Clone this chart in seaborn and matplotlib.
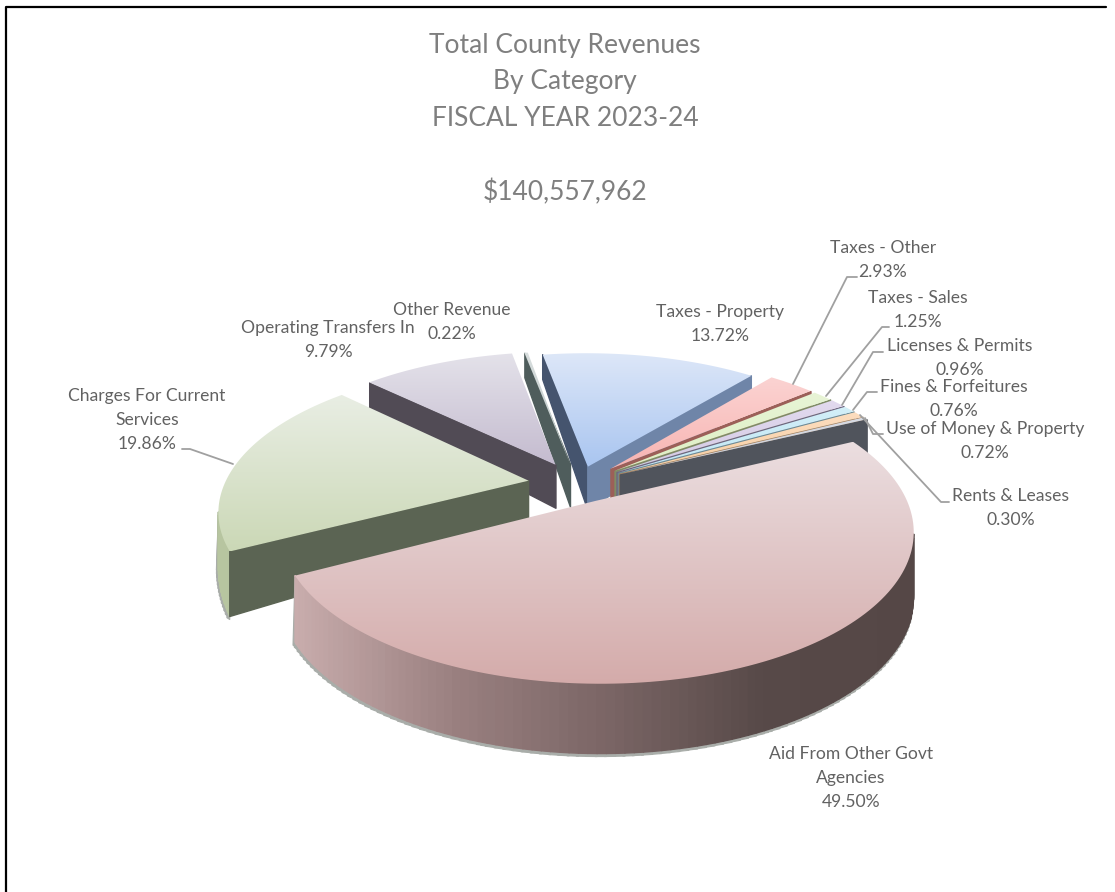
import numpy as np
import matplotlib
matplotlib.use("Agg")
import matplotlib.pyplot as plt
import matplotlib.transforms as mtransforms
from matplotlib.collections import PolyCollection
from matplotlib.path import Path
import seaborn as sns

#%% Datos
categorias = ["Taxes - Property", "Taxes - Other", "Taxes - Sales", "Licenses & Permits",
              "Fines & Forfeitures", "Use of Money & Property", "Rents & Leases",
              "Aid From Other Govt\nAgencies", "Charges For Current\nServices",
              "Operating Transfers In", "Other Revenue"]
porcentajes = [13.72, 2.93, 1.25, 0.96, 0.76, 0.72, 0.30, 49.50, 19.86, 9.79, 0.22]
titulos = ["Total County Revenues", "By Category", "FISCAL YEAR 2023-24", "$140,557,962"]

#%% Estilo
sns.set_theme(style="white")
plt.rcParams["font.family"] = ["Lato", "DejaVu Sans"]

# degradado de la cara superior (arriba, abajo)
tapas = [("#DDE7F8", "#A9C5F0"), ("#FBD3D2", "#F8B4B2"), ("#E8F4D6", "#DDEFC3"),
         ("#E2DAEE", "#D3C8E4"), ("#D3EFF8", "#BFE6F3"), ("#FCDDBF", "#F8CDA0"),
         ("#D8DCE4", "#C6CCD8"), ("#EBDEE0", "#D4ABAA"), ("#E9EEE4", "#CBD8B6"),
         ("#E4E2EA", "#C4BBCF"), ("#D8DEDE", "#BCC6C6")]
# caras laterales: mirando a la derecha, mirando a la izquierda, borde curvo
lados = [("#6F85A8", "#45546E", "#6F85A8"), ("#9C5F58", "#9C5F58", "#9C5F58"),
         ("#7F8C66", "#7F8C66", "#7F8C66"), ("#6F6680", "#6F6680", "#6F6680"),
         ("#6A8A94", "#6A8A94", "#6A8A94"), ("#A87F58", "#A87F58", "#A87F58"),
         ("#50545C", "#50545C", "#50545C"), ("#574948", "#574948", None),
         ("#5B6453", "#5B6453", "#B7C5A0"), ("#514B55", "#514B55", "#514B55"),
         ("#4F5D5C", "#4F5D5C", "#4F5D5C")]
# orden de dibujo, de atras hacia adelante
orden = [10, 0, 1, 2, 3, 4, 5, 6, 9, 8, 7]
separacion = [0.13, 0.155, 0.155, 0.155, 0.155, 0.155, 0.155, 0.13, 0.165, 0.16, 0.15]

etiquetas_pos = [(720, 324), (883, 260), (918, 310), (960, 358), (954, 399),
                 (985, 441), (1011, 508), (851, 778), (147, 420), (328, 340), (452, 322)]
guias = [[(793, 384), (847, 277), (857, 277)],
         [(826, 396), (882, 327), (889, 327)],
         [(842, 405), (873, 352), (883, 352)],
         [(853, 410), (867, 392), (877, 392)],
         [(865, 418), (873, 434), (883, 434)],
         [(860, 415), (941, 502), (949, 502)],
         [(233, 464), (190, 449), (182, 449)]]


class Perspectiva(mtransforms.Transform):
    input_dims = 2
    output_dims = 2

    def __init__(self, cx, cy, ax_, by, k):
        super().__init__()
        self.cx, self.cy, self.ax_, self.by, self.k = cx, cy, ax_, by, k

    def transform_non_affine(self, values):
        u, v = values[:, 0], values[:, 1]
        w = 1 + self.k * v
        return np.column_stack([self.cx + self.ax_ * u / w, self.cy - self.by * v / w])

    def transform_path_non_affine(self, path):
        escala = mtransforms.Affine2D().scale(1000)
        poly = path.to_polygons(transform=escala, closed_only=True)[0] / 1000
        return Path(self.transform_non_affine(poly), closed=True)


def profundidad(y):
    return np.interp(y, [350, 470, 555, 690], [24, 44, 66, 70])


#%% Grafico
fig = plt.figure(figsize=(11.15, 8.92), dpi=100)
ax = fig.add_axes([0, 0, 1, 1])

wedges, _ = ax.pie(porcentajes, explode=separacion, startangle=100,
                   counterclock=False, radius=1)

persp = Perspectiva(578, 484, 304, 141, 0.19)
gradiente_aid = sns.blend_palette(["#C8ACAC", "#9A8080", "#7A6565", "#574948", "#554746"], as_cmap=True)

for z, i in enumerate(orden):
    w = wedges[i]
    contorno = persp.transform_path(w.get_path()).vertices
    apice = persp.transform_non_affine(np.array([w.center]))[0]
    x, y = contorno[:, 0], contorno[:, 1]
    area = np.sum(x[:-1] * y[1:] - x[1:] * y[:-1])
    quads, colores, sombra = [], [], []
    for p, q in zip(contorno[:-1], contorno[1:]):
        dx, dy = q - p
        nx, ny = np.sign(area) * dy, -np.sign(area) * dx
        if ny <= 0:
            continue
        quads.append([p, q, q + [0, profundidad(q[1])], p + [0, profundidad(p[1])]])
        radial = np.allclose(p, apice) or np.allclose(q, apice)
        if radial:
            colores.append(lados[i][0] if nx > 0 else lados[i][1])
        else:
            if lados[i][2] is None:
                colores.append(gradiente_aid((p[0] - 295) / 620))
            else:
                colores.append(lados[i][2])
            sombra.append([p, q, q + [0, profundidad(q[1]) + 3], p + [-2, profundidad(p[1]) + 3]])
    if sombra:
        ax.add_collection(PolyCollection(sombra, facecolors="#A9ADA9", edgecolors="#A9ADA9",
                                         linewidths=0.8, zorder=3 * z))
    pared = PolyCollection(quads, facecolors=colores, edgecolors=colores, linewidths=1.0,
                           zorder=3 * z + 1)
    ax.add_collection(pared)

    w.set_transform(persp + ax.transData)
    w.set_facecolor("none")
    w.set_edgecolor("none")
    w.set_zorder(3 * z + 2)
    cmap = sns.blend_palette(tapas[i], as_cmap=True)
    img = ax.imshow(np.linspace(0, 1, 256)[:, None], cmap=cmap, aspect="auto",
                    extent=(x.min(), x.max(), y.max(), y.min()), zorder=3 * z + 2)
    img.set_clip_path(w)

ax.set_aspect("auto")
ax.axis("off")

# marco: solo arriba y a la izquierda
ax.plot([6, 6, 1106], [900, 6.5, 6.5], color="black", linewidth=1.6, zorder=50)

ax.set_xlim(0, 1115)
ax.set_ylim(892, 0)

#%% Textos
for texto, yy in zip(titulos, [45, 82, 118, 192]):
    ax.text(565, yy, texto, ha="center", va="center", color="#7F7F7F", fontsize=19, zorder=60)

# cada renglon por separado, a 24 px
for nombre, pct, (xx, yy) in zip(categorias, porcentajes, etiquetas_pos):
    renglones = nombre.split("\n") + [f"{pct:.2f}%"]
    for j, renglon in enumerate(renglones):
        ax.text(xx, yy + (j - (len(renglones) - 1) / 2) * 24, renglon, ha="center", va="center",
                color="#626262", fontsize=12.6, zorder=60)

for g in guias:
    g = np.array(g)
    ax.plot(g[:, 0], g[:, 1], color="#A0A0A0", linewidth=1.3, zorder=55)

fig.savefig("out.png", dpi=100)
